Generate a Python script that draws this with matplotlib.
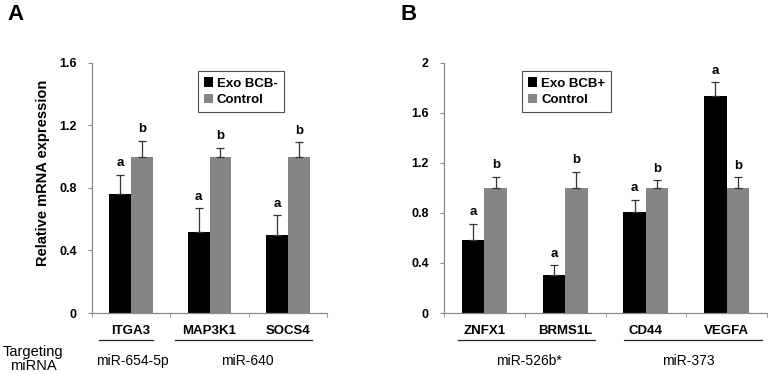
import matplotlib as mpl
mpl.use("Agg")
import matplotlib.pyplot as plt
import matplotlib.transforms as mtransforms
import numpy as np

plt.rcParams['font.family'] = ['Liberation Sans', 'DejaVu Sans']
plt.rcParams['font.weight'] = 'bold'

# panel A
genes_a = ['ITGA3', 'MAP3K1', 'SOCS4']
exo_a = [0.76, 0.515, 0.50]
exo_a_err = [0.125, 0.155, 0.125]
ctrl_a = [1.0, 1.0, 1.0]
ctrl_a_err = [0.10, 0.055, 0.09]
groups_a = [('miR-654-5p', -0.41, 0.28, 0.02), ('miR-640', 0.56, 2.31, 1.48)]

# panel B
genes_b = ['ZNFX1', 'BRMS1L', 'CD44', 'VEGFA']
exo_b = [0.58, 0.305, 0.81, 1.735]
exo_b_err = [0.135, 0.075, 0.095, 0.11]
ctrl_b = [1.0, 1.0, 1.0, 1.0]
ctrl_b_err = [0.09, 0.13, 0.06, 0.085]
groups_b = [('miR-526b*', -0.33, 1.37, 0.55), ('miR-373', 1.73, 3.44, 2.53)]

BLACK = '#000000'
GRAY = '#858585'
AXC = '#8a8a8a'
W = 0.28


def panel(ax, genes, exo, exo_err, ctrl, ctrl_err, ymax, yticks, legend_label,
          legend_x, groups, yfmt):
    x = np.arange(len(genes))
    ek = dict(ecolor='#333333', elinewidth=0.9, capsize=3, capthick=0.9)
    ax.bar(x - W / 2, exo, W, color=BLACK, label=legend_label,
           yerr=[np.zeros(len(x)), exo_err], error_kw=ek)
    ax.bar(x + W / 2, ctrl, W, color=GRAY, label='Control',
           yerr=[np.zeros(len(x)), ctrl_err], error_kw=ek)
    off = ymax * 0.022
    for xi, v, e in zip(x, exo, exo_err):
        ax.text(xi - W / 2, v + e + off, 'a', ha='center', va='bottom',
                fontsize=9.5, fontweight='bold')
    for xi, v, e in zip(x, ctrl, ctrl_err):
        ax.text(xi + W / 2, v + e + off, 'b', ha='center', va='bottom',
                fontsize=9.5, fontweight='bold')

    ax.set_xlim(-0.5, len(genes) - 0.5)
    ax.set_ylim(0, ymax)
    ax.set_yticks(yticks)
    ax.set_yticklabels([yfmt(t) for t in yticks], fontsize=9, fontweight='bold')
    ax.set_xticks(x)
    ax.set_xticklabels(genes, fontsize=9.5, fontweight='bold')
    ax.set_xticks(np.arange(len(genes) + 1) - 0.5, minor=True)
    ax.tick_params(axis='x', which='major', length=0, pad=9)
    ax.tick_params(axis='x', which='minor', length=3, color=AXC, direction='out')
    ax.tick_params(axis='y', length=3, color=AXC, pad=8)
    for s in ['top', 'right']:
        ax.spines[s].set_visible(False)
    for s in ['left', 'bottom']:
        ax.spines[s].set_color(AXC)
        ax.spines[s].set_linewidth(0.9)

    leg = ax.legend(loc='upper left', bbox_to_anchor=(legend_x, 0.965),
                    frameon=True, fancybox=False, edgecolor='#222222',
                    prop={'weight': 'bold', 'size': 9.5},
                    handlelength=0.7, handleheight=0.7, handletextpad=0.3,
                    borderpad=0.45, labelspacing=0.3, borderaxespad=0)
    leg.get_frame().set_linewidth(0.8)

    trans = mtransforms.blended_transform_factory(ax.transData, ax.transAxes)
    for name, x0, x1, xc in groups:
        ax.plot([x0, x1], [-0.108, -0.108], color='#222222', lw=0.9,
                transform=trans, clip_on=False)
        ax.text(xc, -0.19, name, ha='center', va='center', fontsize=10,
                fontweight='normal', transform=trans)


fig = plt.figure(figsize=(7.72, 3.74), dpi=100)
ax1 = fig.add_axes([92 / 772, 61 / 374, 235 / 772, 250.3 / 374])
ax2 = fig.add_axes([444 / 772, 61 / 374, 323 / 772, 250.3 / 374])

panel(ax1, genes_a, exo_a, exo_a_err, ctrl_a, ctrl_a_err, 1.6,
      [0, 0.4, 0.8, 1.2, 1.6], 'Exo BCB-', 0.45, groups_a,
      lambda t: '0' if t == 0 else '%.1f' % t)
panel(ax2, genes_b, exo_b, exo_b_err, ctrl_b, ctrl_b_err, 2.0,
      [0, 0.4, 0.8, 1.2, 1.6, 2.0], 'Exo BCB+', 0.242, groups_b,
      lambda t: '%d' % t if t in (0, 2) else '%.1f' % t)

ax1.set_ylabel('Relative mRNA expression', fontsize=10.5, fontweight='bold')
ax1.yaxis.set_label_coords(-0.18, 0.56)

fig.text(7 / 772, 1 - 15 / 374, 'A', fontsize=16, fontweight='bold', va='center')
fig.text(401 / 772, 1 - 15 / 374, 'B', fontsize=16, fontweight='bold', va='center')
fig.text(33 / 772, 1 - 359 / 374, 'Targeting\nmiRNA', ha='center', va='center',
         fontsize=10.5, fontweight='normal', linespacing=0.95)

fig.savefig('out.png', dpi=100)
